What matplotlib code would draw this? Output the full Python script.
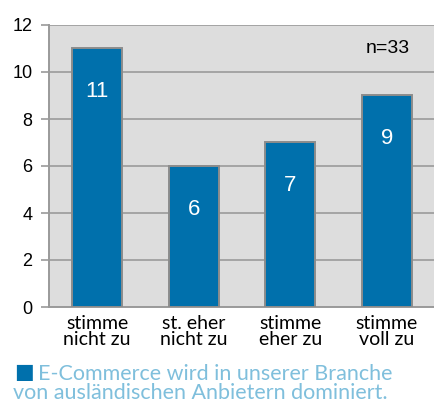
import numpy as np
from matplotlib import pyplot as plt

categories = ["stimme\nnicht zu", "st. eher\nnicht zu", "stimme\neher zu", "stimme\nvoll zu"]
values = [11, 6, 7, 9]
y_ticks = [0, 2, 4, 6, 8, 10, 12]
sample_note = "n=33"
caption_line1 = "E-Commerce wird in unserer Branche"
caption_line2 = "von ausländischen Anbietern dominiert."

bar_blue = "#0070ac"
grid_gray = "#9a9a9a"

fig = plt.figure(figsize=(4.35, 4.03), dpi=100)
ax = fig.add_axes([49 / 435, 96 / 403, 386 / 435, 282 / 403])
ax.set_facecolor("#dddddd")

x = np.arange(len(values))
ax.bar(x, values, width=0.52, color=bar_blue, edgecolor="#8c8c8c", linewidth=1.4, zorder=3)

for xi, v in zip(x, values):
    ax.text(xi, v - 1.85, str(v), color="white", ha="center", va="center",
            fontsize=16, family="Liberation Sans", zorder=4)

ax.set_xlim(-0.5, 3.5)
ax.set_ylim(0, 12)
ax.set_yticks(y_ticks)
ax.set_yticklabels([str(t) for t in y_ticks], family="Liberation Sans", fontsize=13)
ax.yaxis.grid(True, color=grid_gray, linewidth=1.2, zorder=0)
ax.set_axisbelow(True)

ax.set_xticks(x)
ax.set_xticklabels(categories, family="Lato", fontsize=14, linespacing=0.88)
ax.tick_params(axis="x", length=0, pad=6)
ax.tick_params(axis="y", length=6, width=1.2, color=grid_gray, pad=6)

for side in ["top", "right"]:
    ax.spines[side].set_visible(False)
for side in ["left", "bottom"]:
    ax.spines[side].set_color(grid_gray)
    ax.spines[side].set_linewidth(1.4)

ax.text(0.877, 0.915, sample_note, transform=ax.transAxes, ha="center", va="center",
        fontsize=14, family="Liberation Sans")

fig.text(14 / 435, 1 - 378 / 403, "■", color=bar_blue, fontsize=15, family="DejaVu Sans", va="baseline")
fig.text(38 / 435, 1 - 380 / 403, caption_line1, color="#7fbfdc", fontsize=15.5, family="Lato", va="baseline")
fig.text(13 / 435, 1 - 399 / 403, caption_line2, color="#7fbfdc", fontsize=15.5, family="Lato", va="baseline")

fig.savefig("out.png", dpi=100)
